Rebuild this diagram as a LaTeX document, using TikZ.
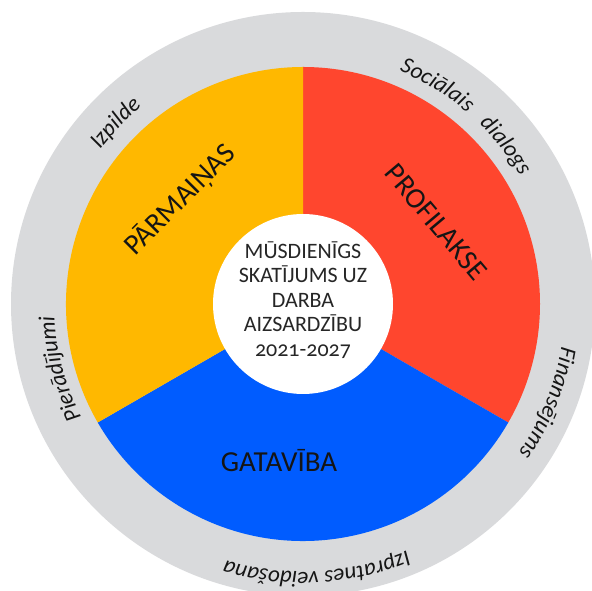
\documentclass[tikz,border=0pt]{standalone}
\usepackage{fontspec}
\setmainfont{Carlito}
\usepackage{xcolor}
\usepackage{tikz}
\usetikzlibrary{decorations.text}

\definecolor{ringgrey}{HTML}{D9DADC}
\definecolor{segyellow}{HTML}{FFB800}
\definecolor{segred}{HTML}{FF462E}
\definecolor{segblue}{HTML}{005CFF}
\definecolor{labeltext}{HTML}{151515}

\newcommand{\outerlbl}{\fontsize{23}{27}\selectfont\itshape\color{labeltext}}

\begin{document}
\begin{tikzpicture}[
    x=1pt, y=1pt,
    ring/.style={fill=ringgrey},
    segment/.style={draw=none},
    hub/.style={circle, fill=white, minimum size=180pt, inner sep=0pt},
    bigword/.style={font=\fontsize{29}{34}\selectfont, text=labeltext, inner sep=0pt},
    hubtext/.style={font=\fontsize{22}{24.5}\selectfont, text=black!85, align=center, inner sep=0pt},
    arclabel/.style={decorate, decoration={text along path, text align=center, text={|\outerlbl|#1}}}
]
\useasboundingbox (0,0) rectangle (592,591);
\coordinate (C) at (303,287);

% Outer ring
\fill[ring] (C) circle (292);

% Segments
\fill[segment, segred] (C) -- ([shift={(90:237)}]C) arc (90:-30:237) -- cycle;
\fill[segment, segblue] (C) -- ([shift={(-30:237)}]C) arc (-30:-150:237) -- cycle;
\fill[segment, segyellow] (C) -- ([shift={(210:237)}]C) arc (210:90:237) -- cycle;

% Hub
\node[hub] (hub) at (C) {};
\node[hubtext] (title) at ([yshift=4pt]C) {MŪSDIENĪGS\\SKATĪJUMS UZ\\DARBA\\AIZSARDZĪBU\\{\addfontfeatures{Numbers=OldStyle}2021-2027}};

% Segment labels
\node[bigword, rotate=45] (parm) at (180,391) {PĀRMAIŅAS};
\node[bigword, rotate=-50] (prof) at (436,369) {PROFILAKSE};
\node[bigword] (gat) at (279,130) {GATAVĪBA};

% Ring labels
\path[arclabel={Izpilde}] ([shift={(176:255)}]C) arc (176:96:255);
\path[arclabel={Sociālais{\hspace{11pt}} dialogs}] ([shift={(94:252)}]C) arc (94:4:252);
\path[arclabel={Pierādījumi}] ([shift={(240:249)}]C) arc (240:150:249);
\path[arclabel={Finansējums}] ([shift={(23:262)}]C) arc (23:-67:262);
\path[arclabel={Izpratnes veidošana}] ([shift={(-37:268)}]C) arc (-37:-137:268);

\end{tikzpicture}
\end{document}
